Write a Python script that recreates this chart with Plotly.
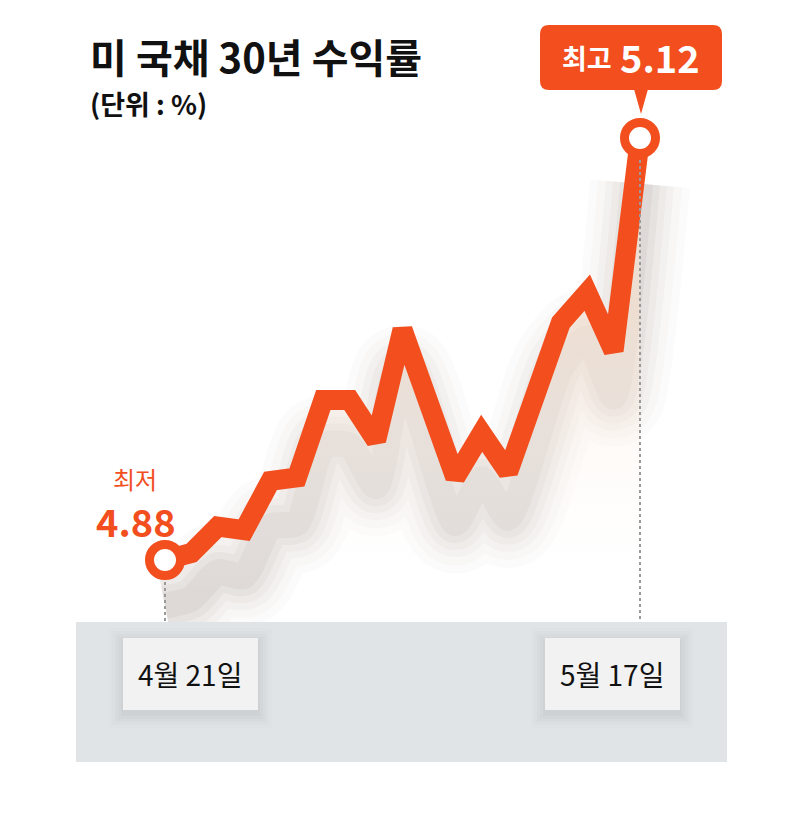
import plotly.graph_objects as go

# page body adds an 8px margin, so the figure is drawn inside it
OFF = 8
W, H = 791 - 2 * OFF, 817 - 2 * OFF

# trading-day slot (gaps = days with no print) and 30y yield in %
day_slot = [0, 1, 2, 3, 4, 5, 6, 7, 8, 9, 11, 12, 13, 15, 16, 17, 18]
yields = [4.880, 4.884, 4.899, 4.897, 4.925, 4.927, 4.971, 4.971, 4.948,
          5.011, 4.927, 4.952, 4.930, 5.015, 5.032, 4.999, 5.120]
date_labels = ["4월 21일", "5월 17일"]
low_label = "최저"
high_label = "최고"

ORANGE = "#F24E1E"
FONT = "Noto Sans CJK KR"


def px(x):
    return (x - OFF) / W


def py(y):
    return 1 - (y - OFF) / H


def rounded_rect(x0, y0, x1, y1, r):
    # path in paper coords built from pixel corners
    pts = [
        f"M {px(x0 + r)},{py(y0)}",
        f"L {px(x1 - r)},{py(y0)}",
        f"Q {px(x1)},{py(y0)} {px(x1)},{py(y0 + r)}",
        f"L {px(x1)},{py(y1 - r)}",
        f"Q {px(x1)},{py(y1)} {px(x1 - r)},{py(y1)}",
        f"L {px(x0 + r)},{py(y1)}",
        f"Q {px(x0)},{py(y1)} {px(x0)},{py(y1 - r)}",
        f"L {px(x0)},{py(y0 + r)}",
        f"Q {px(x0)},{py(y0)} {px(x0 + r)},{py(y0)}",
        "Z",
    ]
    return " ".join(pts)


lo, hi = min(yields), max(yields)
i_lo, i_hi = yields.index(lo), yields.index(hi)

fig = go.Figure()

# soft drop shadow under the line (stacked translucent strokes)
shadow_y = [v - 0.026 for v in yields]
for w, a in [(100, 0.018), (84, 0.024), (68, 0.03), (54, 0.038), (40, 0.045), (26, 0.055)]:
    fig.add_trace(go.Scatter(x=day_slot, y=shadow_y, mode="lines",
                             line=dict(color=f"rgba(100,70,50,{a})", width=w, shape="spline", smoothing=0.6),
                             hoverinfo="skip", showlegend=False))

# faint warm glow under the line
fig.add_trace(go.Scatter(
    x=day_slot, y=yields, mode="lines", fill="tozeroy",
    line=dict(width=0, color="rgba(0,0,0,0)"),
    fillgradient=dict(type="vertical", start=4.86, stop=5.02,
                      colorscale=[[0, "rgba(255,255,255,0)"], [1, "rgba(250,226,206,0.55)"]]),
    hoverinfo="skip", showlegend=False))

fig.add_trace(go.Scatter(x=day_slot, y=yields, mode="lines",
                         line=dict(color=ORANGE, width=20),
                         hoverinfo="skip", showlegend=False))

fig.add_trace(go.Scatter(x=[day_slot[i_lo], day_slot[i_hi]], y=[lo, hi], mode="markers",
                         marker=dict(size=31, color="white", line=dict(color=ORANGE, width=9)),
                         hoverinfo="skip", showlegend=False))

shapes = []
# dotted drop lines
shapes.append(dict(type="line", xref="x", yref="paper", x0=day_slot[i_lo], x1=day_slot[i_lo],
                   y0=py(582), y1=py(622), line=dict(color="#9a9a9a", width=2, dash="dot")))
shapes.append(dict(type="line", xref="x", yref="paper", x0=day_slot[i_hi], x1=day_slot[i_hi],
                   y0=py(160), y1=py(622), line=dict(color="#9a9a9a", width=2, dash="dot")))
# gray date band
shapes.append(dict(type="rect", xref="paper", yref="paper", x0=px(76), x1=px(727),
                   y0=py(762), y1=py(622), fillcolor="#E1E4E7", line=dict(width=0), layer="above"))
# date boxes with soft shadow
for bx in [123, 545]:
    for g, a in [(14, 0.012), (11, 0.016), (8, 0.02), (5, 0.026), (2, 0.032)]:
        shapes.append(dict(type="rect", xref="paper", yref="paper",
                           x0=px(bx - g), x1=px(bx + 135 + g), y0=py(710 + g + 4), y1=py(638 - g + 4),
                           fillcolor=f"rgba(60,60,70,{a})", line=dict(width=0), layer="above"))
    shapes.append(dict(type="rect", xref="paper", yref="paper", x0=px(bx), x1=px(bx + 135),
                       y0=py(710), y1=py(638), fillcolor="#F2F2F2", line=dict(width=0), layer="above"))
# high callout bubble and pointer
shapes.append(dict(type="path", xref="paper", yref="paper", path=rounded_rect(540, 25, 722, 90, 9),
                   fillcolor=ORANGE, line=dict(width=0), layer="above"))
shapes.append(dict(type="path", xref="paper", yref="paper",
                   path=f"M {px(634)},{py(89)} L {px(648)},{py(89)} L {px(641)},{py(114)} Z",
                   fillcolor=ORANGE, line=dict(width=0), layer="above"))

annotations = [
    dict(text="<b>미 국채 30년 수익률</b>", x=px(88), y=py(56), xanchor="left", yanchor="middle",
         font=dict(size=40, color="#111111", family=FONT)),
    dict(text="<b>(단위 : %)</b>", x=px(88), y=py(104), xanchor="left", yanchor="middle",
         font=dict(size=27, color="#111111", family=FONT)),
    dict(text=low_label, x=px(135), y=py(478), xanchor="center", yanchor="middle",
         font=dict(size=24, color=ORANGE, family=FONT)),
    dict(text=f"<b>{lo:.2f}</b>", x=px(136), y=py(520), xanchor="center", yanchor="middle",
         font=dict(size=38, color=ORANGE, family=FONT)),
    dict(text=f"<b>{high_label}</b>", x=px(587), y=py(57), xanchor="center", yanchor="middle",
         font=dict(size=27, color="white", family=FONT)),
    dict(text=f"<b>{hi:.2f}</b>", x=px(660), y=py(56), xanchor="center", yanchor="middle",
         font=dict(size=38, color="white", family=FONT)),
    dict(text=date_labels[0], x=px(190), y=py(674), xanchor="center", yanchor="middle",
         font=dict(size=28, color="#111111", family=FONT)),
    dict(text=date_labels[1], x=px(612), y=py(674), xanchor="center", yanchor="middle",
         font=dict(size=28, color="#111111", family=FONT)),
]
for a in annotations:
    a.update(xref="paper", yref="paper", showarrow=False)

# axis ranges pin slot 0 -> 165px, slot 18 -> 640px, 4.88 -> 560px, 5.12 -> 138px (page pixels)
slot_px = (640 - 165) / 18
x0 = -(165 - OFF) / slot_px
unit = (hi - lo) / (560 - 138)
y_top = hi + (138 - OFF) * unit

fig.update_layout(
    width=W, height=H,
    margin=dict(l=0, r=0, t=0, b=0),
    paper_bgcolor="white", plot_bgcolor="white",
    xaxis=dict(range=[x0, x0 + W / slot_px], visible=False, fixedrange=True),
    yaxis=dict(range=[y_top - H * unit, y_top], visible=False, fixedrange=True),
    shapes=shapes,
    annotations=annotations,
    showlegend=False,
)

fig.write_html("out.html")
